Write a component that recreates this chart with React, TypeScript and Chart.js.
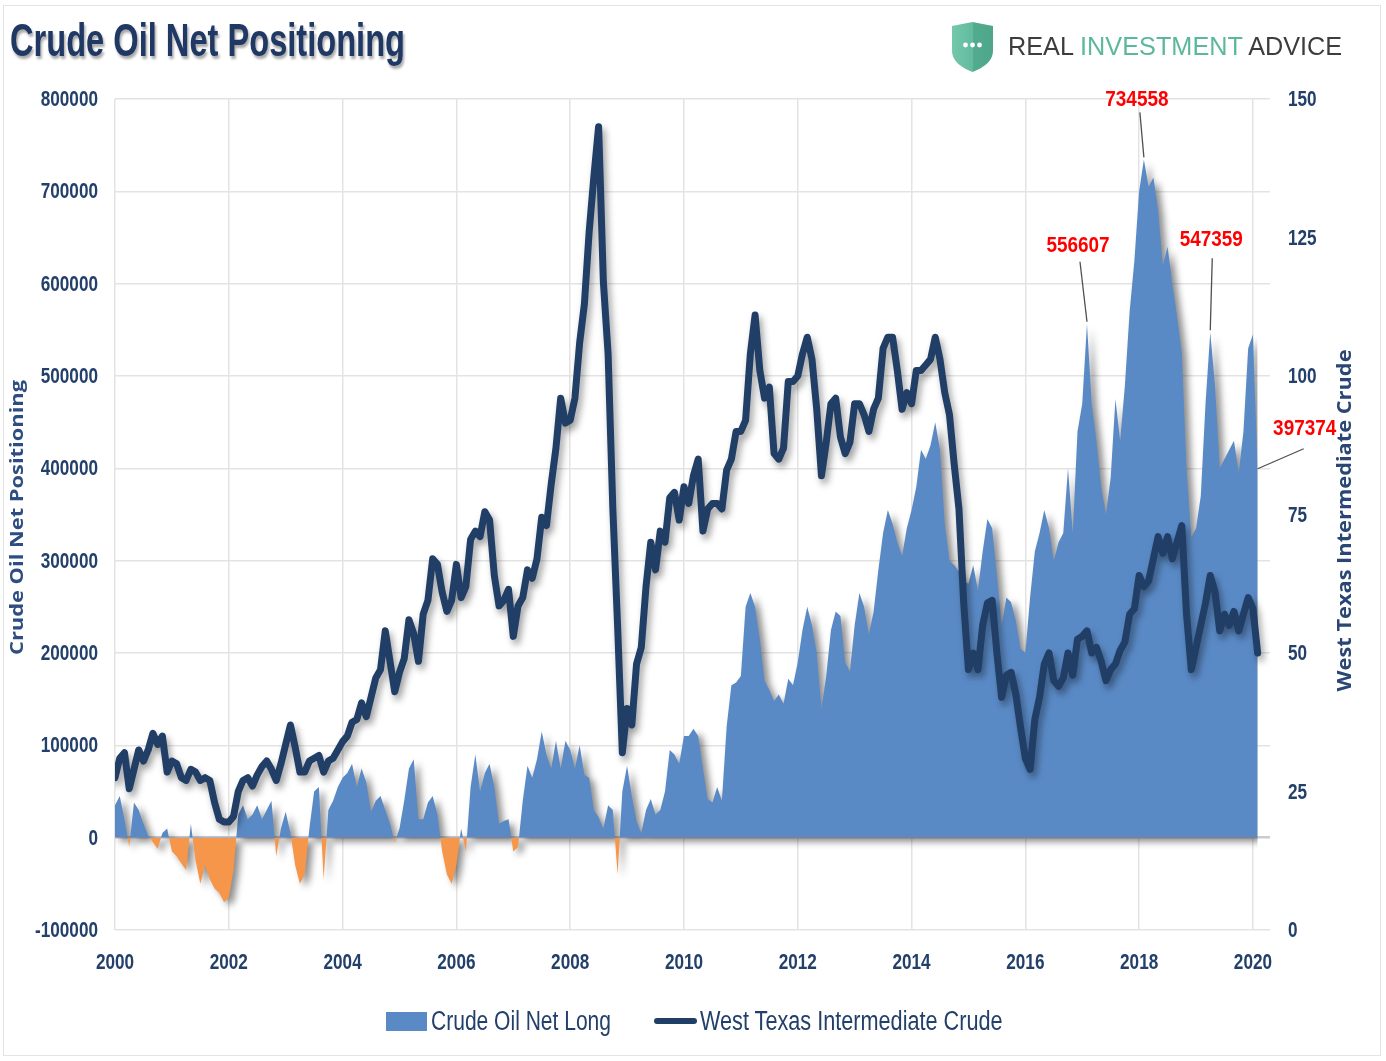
import React, { useEffect, useRef } from 'react';
import { Chart, registerables } from 'chart.js';

// ---------------- DATA ----------------
const startYear = 2000; // monthly observations starting Jan 2000
const xTickYears = [2000, 2002, 2004, 2006, 2008, 2010, 2012, 2014, 2016, 2018, 2020];
const leftTickValues = [-100000, 0, 100000, 200000, 300000, 400000, 500000, 600000, 700000, 800000];
const rightTickValues = [0, 25, 50, 75, 100, 125, 150];

const seriesNames = ['Crude Oil Net Long', 'West Texas Intermediate Crude'];
const chartTitle = 'Crude Oil Net Positioning';
const leftAxisTitle = 'Crude Oil Net Positioning';
const rightAxisTitle = 'West Texas Intermediate Crude';

// Crude oil net long positioning (contracts), monthly Jan 2000 .. Feb 2020
const netLong = [
  35000, 45000, 20000, -10000, 38000, 30000, 15000, 2000, -5000, -12000, 5000, 10000, // 2000
  -15000, -20000, -28000, -35000, 15000, -25000, -50000, -30000, -45000, -55000, -60000, -70000, // 2001
  -65000, -35000, 25000, 35000, 20000, 25000, 35000, 20000, 30000, 40000, -20000, 10000, // 2002
  28000, 5000, -30000, -50000, -40000, 10000, 50000, 55000, -45000, 30000, 40000, 55000, // 2003
  65000, 70000, 80000, 55000, 75000, 60000, 28000, 40000, 45000, 30000, 15000, -5000, // 2004
  10000, 40000, 75000, 85000, 20000, 20000, 38000, 45000, 25000, -15000, -40000, -50000, // 2005
  -30000, 10000, -15000, 55000, 90000, 50000, 70000, 80000, 55000, 15000, 18000, 20000, // 2006
  -15000, -10000, 40000, 78000, 65000, 85000, 115000, 90000, 75000, 105000, 75000, 105000, // 2007
  95000, 75000, 100000, 68000, 65000, 30000, 22000, 10000, 35000, 30000, -40000, 50000, // 2008
  78000, 45000, 18000, 5000, 30000, 42000, 25000, 30000, 50000, 95000, 90000, 80000, // 2009
  110000, 110000, 118000, 110000, 75000, 42000, 38000, 55000, 40000, 120000, 165000, 168000, // 2010
  175000, 250000, 265000, 250000, 215000, 170000, 160000, 148000, 155000, 145000, 172000, 165000, // 2011
  190000, 225000, 250000, 230000, 200000, 140000, 175000, 225000, 245000, 240000, 190000, 180000, // 2012
  230000, 265000, 250000, 220000, 245000, 290000, 330000, 355000, 340000, 320000, 305000, 335000, // 2013
  355000, 380000, 420000, 410000, 425000, 450000, 420000, 340000, 300000, 295000, 288000, 278000, // 2014
  275000, 295000, 268000, 310000, 345000, 335000, 285000, 230000, 260000, 255000, 235000, 205000, // 2015
  200000, 260000, 310000, 330000, 355000, 335000, 300000, 320000, 330000, 400000, 330000, 440000, // 2016
  470000, 556607, 470000, 430000, 380000, 350000, 390000, 475000, 430000, 490000, 570000, 625000, // 2017
  700000, 734558, 705000, 715000, 680000, 620000, 640000, 600000, 565000, 525000, 400000, 325000, // 2018
  335000, 370000, 470000, 547359, 490000, 400000, 410000, 420000, 430000, 395000, 440000, 530000, // 2019
  545000, 397374, // 2020
];

// West Texas Intermediate crude price ($/bbl), monthly Jan 2000 .. Feb 2020
const wti = [
  27.5, 31, 32, 25.5, 29, 32.5, 30.5, 32.5, 35.5, 33.5, 35, 28.5, // 2000
  30.5, 30, 27.5, 27, 29, 28.5, 27, 27.5, 27, 23, 20, 19.5, // 2001
  19.5, 20.5, 25, 27, 27.5, 26, 28, 29.5, 30.5, 29, 27, 30, // 2002
  33.5, 37, 33, 28.5, 28.5, 30.5, 31, 31.5, 28.5, 30.5, 31, 32.5, // 2003
  34, 35, 37.5, 38, 41, 38.5, 42, 45.5, 47, 54, 48.5, 43, // 2004
  46.5, 49, 56, 53.5, 48.5, 57, 59.5, 67, 66, 61, 57.5, 59.5, // 2005
  66, 60, 62, 70.5, 72, 71, 75.5, 74, 64, 58.5, 59.5, 61.5, // 2006
  53, 58.5, 60, 65, 63.5, 67, 74.5, 73, 80.5, 87, 96, 91.5, // 2007
  92, 96, 106, 113, 126, 136, 145, 117, 104, 76, 55, 32, // 2008
  40, 37, 48, 51, 62, 70, 65, 72, 70, 78, 79, 74, // 2009
  80, 77, 82, 85, 72, 76, 77, 77, 76, 83, 85, 90, // 2010
  90, 92, 104, 111, 101, 96, 98, 86, 85, 87, 99, 99, // 2011
  100, 104, 107, 103, 94, 82, 88, 95, 96, 89, 86, 88, // 2012
  95, 95, 93, 90, 94, 96, 105, 107, 107, 101, 94, 97, // 2013
  95, 101, 101, 102, 103, 107, 103, 97, 93, 84, 76, 59, // 2014
  47, 50, 47, 55, 59, 59.5, 50, 42, 46, 46.5, 42.5, 36.5, // 2015
  31, 29, 38, 42, 48, 50, 45, 44, 45.5, 50, 46, 52.5, // 2016
  53, 54, 50, 51, 48.5, 45, 47, 48, 50.5, 52, 57, 58, // 2017
  64, 62, 63, 67, 71, 68, 71, 67, 70, 73, 57, 47, // 2018
  51, 55, 59, 64, 61, 54, 57, 55, 57.5, 54, 57, 60, // 2019
  58, 50, // 2020
];

// Net-long readings called out on the chart
const annotatedValues = [556607, 734558, 547359, 397374];

// ---------------- STYLE ----------------
const W = 1386;
const H = 1061;
const SANS = "'Liberation Sans', Arial, sans-serif";
const OPEN = "'Open Sans', 'DejaVu Sans', sans-serif";
const NAVY = '#23406B';
const AREA_BLUE = '#5A8AC6';
const AREA_ORANGE = '#F5964A';
const LINE_NAVY = '#213F66';
const GRID = '#e3e3e3';
const TICK_FONT = `bold 22px ${SANS}`;
const TICK_SX = 0.78;
// label/leader offsets (px) relative to the annotated point
const annotationOffsets = [
  { tx: -9, ty: -78, lx: -7, ly: -62 },
  { tx: -7, ty: -59, lx: -4, ly: -47 },
  { tx: 1, ty: -92, lx: 2, ly: -74 },
  { tx: 47, ty: -42, lx: 46, ly: -22 },
];

let measureCtx: CanvasRenderingContext2D | null = null;
function textWidth(text: string, font: string) {
  if (!measureCtx) measureCtx = document.createElement('canvas').getContext('2d');
  measureCtx!.font = font;
  return measureCtx!.measureText(text).width;
}
function fitScale(text: string, font: string, target: number) {
  const w = textWidth(text, font);
  return w > 0 ? target / w : 1;
}

const shadowPlugin = {
  id: 'dsShadow',
  beforeDatasetDraw(chart: any, args: any) {
    const ctx = chart.ctx;
    ctx.save();
    const s = chart.data.datasets[args.index].shadow;
    if (s) {
      ctx.shadowColor = s.color;
      ctx.shadowBlur = s.blur;
      ctx.shadowOffsetX = s.x;
      ctx.shadowOffsetY = s.y;
    }
  },
  afterDatasetDraw(chart: any) {
    chart.ctx.restore();
  },
};
Chart.register(shadowPlugin as any);
Chart.register(...registerables);

function drawScaledText(
  ctx: CanvasRenderingContext2D,
  text: string,
  x: number,
  y: number,
  font: string,
  sx: number,
  align: CanvasTextAlign,
  rot = 0,
) {
  ctx.save();
  ctx.translate(x, y);
  if (rot) ctx.rotate(rot);
  ctx.scale(sx, 1);
  ctx.font = font;
  ctx.textAlign = align;
  ctx.textBaseline = 'middle';
  ctx.fillText(text, 0, 0);
  ctx.restore();
}

const overlayPlugin = {
  id: 'overlay',
  afterDraw(chart: any) {
    const { ctx, chartArea, scales } = chart;
    const xs = scales.x;
    const ys = scales.y;
    const y1 = scales.y1;
    ctx.save();
    // tick labels, positioned by the library's scales
    ctx.fillStyle = NAVY;
    ys.ticks.forEach((t: any) => {
      drawScaledText(ctx, String(t.value), chartArea.left - 17, ys.getPixelForValue(t.value) + 1, TICK_FONT, TICK_SX, 'right');
    });
    y1.ticks.forEach((t: any) => {
      drawScaledText(ctx, String(t.value), chartArea.right + 18, y1.getPixelForValue(t.value) + 1, TICK_FONT, TICK_SX, 'left');
    });
    xs.ticks.forEach((t: any) => {
      drawScaledText(ctx, String(t.value), xs.getPixelForValue(t.value), chartArea.bottom + 33, TICK_FONT, TICK_SX, 'center');
    });
    // annotations
    const annFont = `bold 22px ${SANS}`;
    annotatedValues.forEach((v, k) => {
      const i = netLong.indexOf(v);
      if (i < 0) return;
      const px = xs.getPixelForValue(startYear + i / 12);
      const py = ys.getPixelForValue(v);
      const o = annotationOffsets[k];
      ctx.strokeStyle = '#505050';
      ctx.lineWidth = 1.3;
      ctx.beginPath();
      ctx.moveTo(px + o.lx, py + o.ly);
      ctx.lineTo(px, py - 2);
      ctx.stroke();
      ctx.fillStyle = '#FF0000';
      drawScaledText(ctx, String(v), px + o.tx, py + o.ty, annFont, 0.86, 'center');
    });
    // axis titles (both read bottom-to-top)
    const cy = (chartArea.top + chartArea.bottom) / 2;
    const lFont = `bold 18px ${OPEN}`;
    ctx.fillStyle = '#2E4D80';
    drawScaledText(ctx, leftAxisTitle, chartArea.left - 97, cy + 3, lFont, fitScale(leftAxisTitle, lFont, 275), 'center', -Math.PI / 2);
    const rFont = `bold 19px ${OPEN}`;
    ctx.fillStyle = '#2A4674';
    drawScaledText(ctx, rightAxisTitle, chartArea.right + 76, cy + 6, rFont, fitScale(rightAxisTitle, rFont, 342), 'center', -Math.PI / 2);
    ctx.restore();
  },
};

function ChartCanvas() {
  const ref = useRef<HTMLCanvasElement | null>(null);
  useEffect(() => {
    if (!ref.current) return;
    const xVals = netLong.map((_, i) => startYear + i / 12);
    const chart = new Chart(ref.current, {
      type: 'line',
      data: {
        datasets: [
          {
            label: seriesNames[1],
            data: wti.map((v, i) => ({ x: xVals[i], y: v })),
            yAxisID: 'y1',
            borderColor: LINE_NAVY,
            borderWidth: 7,
            borderJoinStyle: 'round',
            borderCapStyle: 'round',
            pointRadius: 0,
            tension: 0,
            fill: false,
            order: 0,
            shadow: { color: 'rgba(0,0,0,0.38)', blur: 7, x: 3, y: 5 },
          } as any,
          {
            label: seriesNames[0],
            data: netLong.map((v, i) => ({ x: xVals[i], y: v })),
            yAxisID: 'y',
            borderColor: 'rgba(0,0,0,0)',
            borderWidth: 0,
            backgroundColor: AREA_BLUE,
            pointRadius: 0,
            tension: 0,
            fill: { target: 'origin', above: AREA_BLUE, below: AREA_ORANGE },
            order: 1,
            shadow: { color: 'rgba(0,0,0,0.45)', blur: 7, x: 5, y: 4 },
          } as any,
        ],
      },
      options: {
        animation: false,
        responsive: false,
        devicePixelRatio: 1,
        layout: { padding: { top: 99, left: 0, right: 0, bottom: 0 } },
        plugins: {
          legend: { display: false },
          tooltip: { enabled: false },
        },
        scales: {
          x: {
            type: 'linear',
            min: 2000,
            max: 2020.3,
            afterBuildTicks: (s: any) => {
              s.ticks = xTickYears.map((v) => ({ value: v }));
            },
            afterFit: (s: any) => {
              s.height = H - 930;
            },
            ticks: { display: false },
            grid: { color: GRID, lineWidth: 1.5, drawTicks: false },
            border: { display: false },
          },
          y: {
            type: 'linear',
            position: 'left',
            min: -100000,
            max: 800000,
            afterBuildTicks: (s: any) => {
              s.ticks = leftTickValues.map((v) => ({ value: v }));
            },
            afterFit: (s: any) => {
              s.width = 115;
            },
            ticks: { display: false },
            grid: {
              color: (c: any) => (c.tick && c.tick.value === 0 ? '#c5ccd6' : GRID),
              lineWidth: (c: any) => (c.tick && c.tick.value === 0 ? 2.5 : 1.5),
              drawTicks: false,
            },
            border: { display: false },
          },
          y1: {
            type: 'linear',
            position: 'right',
            min: 0,
            max: 150,
            afterBuildTicks: (s: any) => {
              s.ticks = rightTickValues.map((v) => ({ value: v }));
            },
            afterFit: (s: any) => {
              s.width = W - 1270;
            },
            ticks: { display: false },
            grid: { display: false, drawTicks: false },
            border: { display: false },
          },
        },
      } as any,
      plugins: [overlayPlugin],
    });
    return () => chart.destroy();
  }, []);
  return (
    <canvas
      ref={ref}
      width={W}
      height={H}
      style={{ position: 'absolute', left: 0, top: 0, width: W, height: H }}
    />
  );
}

function Logo() {
  return (
    <div style={{ position: 'absolute', left: 950, top: 21 }}>
      <svg width="45" height="52" viewBox="0 0 45 52">
        <defs>
          <linearGradient id="shieldGrad" x1="0" y1="0" x2="1" y2="0">
            <stop offset="0" stopColor="#74C8AC" />
            <stop offset="0.5" stopColor="#62BB9E" />
            <stop offset="0.5" stopColor="#53AC8F" />
            <stop offset="1" stopColor="#4FA68A" />
          </linearGradient>
        </defs>
        <path d="M2 5 L22.5 1 L43 5 L43 30 Q43 43 22.5 51 Q2 43 2 30 Z" fill="url(#shieldGrad)" />
        <circle cx="15.5" cy="24" r="2.4" fill="#ffffff" />
        <circle cx="22.5" cy="24" r="2.4" fill="#ffffff" />
        <circle cx="29.5" cy="24" r="2.4" fill="#ffffff" />
      </svg>
    </div>
  );
}

function FitText(props: {
  text: React.ReactNode;
  plain: string;
  left: number;
  top: number;
  size: number;
  weight?: string;
  width: number;
  sy?: number;
  color: string;
  shadow?: string;
}) {
  const weight = props.weight || 'normal';
  const font = `${weight} ${props.size}px ${SANS}`;
  const sx = fitScale(props.plain, font, props.width);
  return (
    <div
      style={{
        position: 'absolute',
        left: props.left,
        top: props.top,
        fontFamily: SANS,
        fontWeight: weight as any,
        fontSize: props.size,
        lineHeight: `${props.size}px`,
        color: props.color,
        whiteSpace: 'nowrap',
        transform: `scale(${sx}, ${props.sy || 1})`,
        transformOrigin: 'top left',
        textShadow: props.shadow,
      }}
    >
      {props.text}
    </div>
  );
}

export default function App() {
  useEffect(() => {
    document.body.style.margin = '0';
  }, []);
  return (
    <div style={{ position: 'relative', width: W, height: H, background: '#ffffff', overflow: 'hidden' }}>
      <div
        style={{
          position: 'absolute',
          left: 3,
          top: 5,
          width: 1378,
          height: 1051,
          border: '1px solid #e4e4e4',
          boxSizing: 'border-box',
        }}
      />
      <ChartCanvas />
      <FitText
        text={chartTitle}
        plain={chartTitle}
        left={10}
        top={17}
        size={44}
        weight="bold"
        width={395}
        sy={1.05}
        color="#1F3864"
        shadow="2px 3px 3px rgba(0,0,0,0.35)"
      />
      <Logo />
      <FitText
        text={
          <>
            REAL <span style={{ color: '#5CB89C' }}>INVESTMENT</span> ADVICE
          </>
        }
        plain="REAL INVESTMENT ADVICE"
        left={1008}
        top={33}
        size={25}
        width={337}
        sy={1.05}
        color="#3D3D3D"
      />
      {/* legend */}
      <div style={{ position: 'absolute', left: 386, top: 1012, width: 41, height: 19, background: AREA_BLUE }} />
      <FitText text={seriesNames[0]} plain={seriesNames[0]} left={431} top={1008} size={27} width={180} color={NAVY} />
      <div
        style={{
          position: 'absolute',
          left: 654,
          top: 1018,
          width: 43,
          height: 6,
          borderRadius: 3,
          background: LINE_NAVY,
        }}
      />
      <FitText text={seriesNames[1]} plain={seriesNames[1]} left={700} top={1008} size={27} width={303} color={NAVY} />
    </div>
  );
}
